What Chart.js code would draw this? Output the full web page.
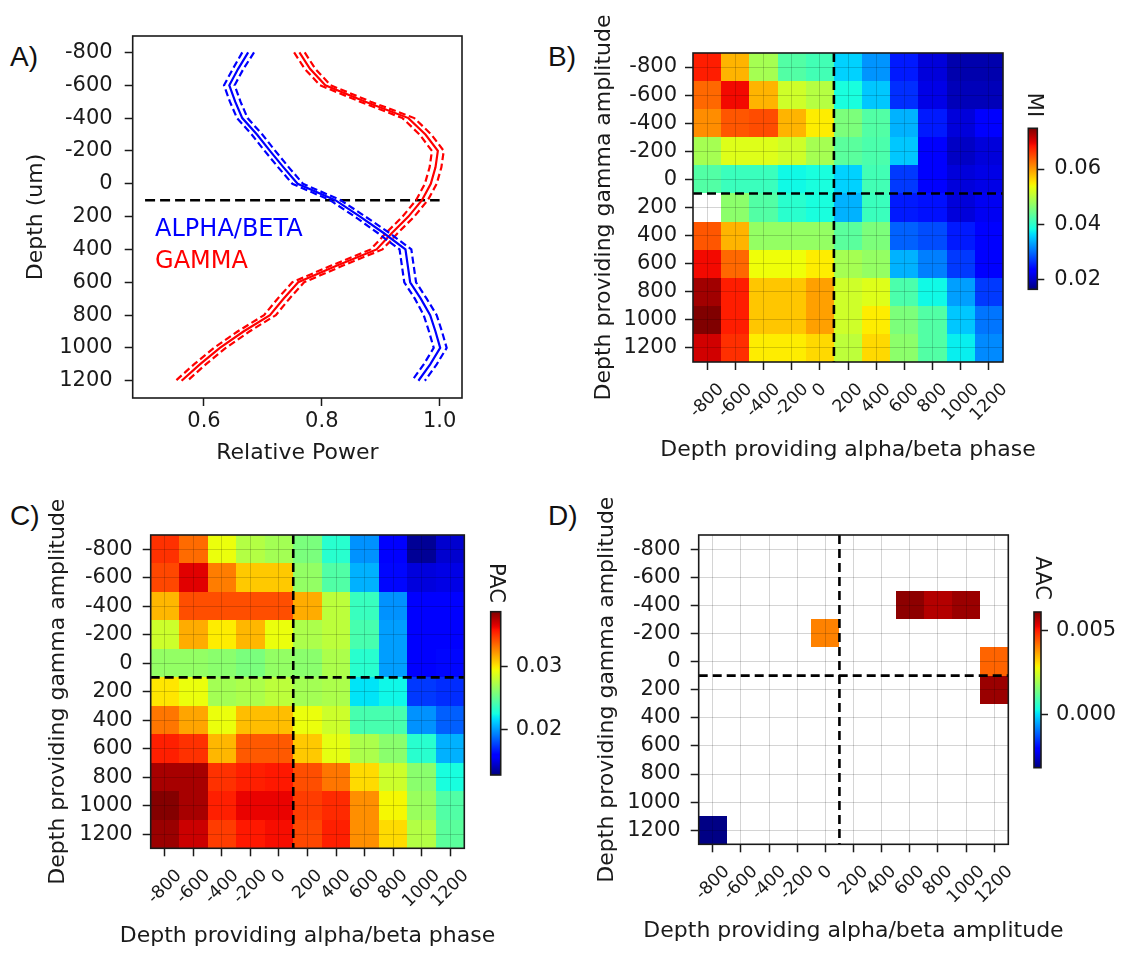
<!DOCTYPE html>
<html>
<head>
<meta charset="utf-8">
<script src="https://cdn.jsdelivr.net/npm/chart.js@4.4.1/dist/chart.umd.min.js"></script>
<style>
  body { margin: 0; background: #fff; }
  #fig { position: relative; width: 1126px; height: 953px; overflow: hidden; background: #fff; }
  #fig canvas { position: absolute; }
  .tag { position: absolute; font-family: 'Liberation Sans', sans-serif; font-size: 28px; line-height: 28px; color: #111; }
</style>
</head>
<body>
<div id="fig">
  <div class="tag" style="left:10px;top:43px">A)</div>
  <div class="tag" style="left:548px;top:43px">B)</div>
  <div class="tag" style="left:10px;top:502px">C)</div>
  <div class="tag" style="left:548px;top:502px">D)</div>
  <canvas id="powerChart" width="480" height="480" style="left:0;top:0"></canvas>
  <canvas id="miChart" width="586" height="480" style="left:540px;top:0"></canvas>
  <canvas id="miBar" width="126" height="260" style="left:1000px;top:60px"></canvas>
  <canvas id="pacChart" width="540" height="473" style="left:0;top:480px"></canvas>
  <canvas id="pacBar" width="110" height="260" style="left:470px;top:540px"></canvas>
  <canvas id="aacChart" width="586" height="473" style="left:540px;top:480px"></canvas>
  <canvas id="aacBar" width="116" height="260" style="left:1010px;top:540px"></canvas>
</div>
<script>
// ---- data ----
const depths = [-800, -700, -600, -500, -400, -300, -200, -100, 0, 100, 200, 300, 400, 500, 600, 700, 800, 900, 1000, 1100, 1200];
const alphaBetaPower = [0.675, 0.658, 0.643, 0.653, 0.665, 0.690, 0.712, 0.735, 0.759, 0.823, 0.865, 0.905, 0.942, 0.946, 0.950, 0.968, 0.984, 0.993, 1.001, 0.984, 0.964];
const alphaBetaErr = [0.010, 0.009, 0.009, 0.009, 0.009, 0.009, 0.009, 0.009, 0.009, 0.009, 0.009, 0.010, 0.010, 0.010, 0.010, 0.010, 0.011, 0.011, 0.011, 0.011, 0.011];
const gammaPower = [0.762, 0.780, 0.806, 0.874, 0.947, 0.976, 0.997, 0.993, 0.985, 0.970, 0.947, 0.919, 0.893, 0.825, 0.760, 0.735, 0.712, 0.667, 0.627, 0.593, 0.562];
const gammaErr = [0.009, 0.009, 0.009, 0.009, 0.010, 0.010, 0.010, 0.010, 0.010, 0.010, 0.010, 0.010, 0.010, 0.010, 0.010, 0.010, 0.010, 0.010, 0.010, 0.010, 0.010];
const powerTicks = [0.6, 0.8, 1.0];

const depthTicks = [-800, -600, -400, -200, 0, 200, 400, 600, 800, 1000, 1200];
const cellDepths = [-800, -600, -400, -200, 0, 200, 400, 600, 800, 1000, 1200];
const cellSize = 200;
const boundaryDepth = 100;

// rows = depth providing gamma amplitude, columns = depth providing alpha/beta
const miValues = [
  [0.0677, 0.0584, 0.0486, 0.0427, 0.0416, 0.0358, 0.0323, 0.0253, 0.0212, 0.0189, 0.0189],
  [0.0631, 0.0689, 0.0584, 0.0515, 0.0497, 0.0387, 0.0352, 0.0265, 0.0218, 0.0195, 0.0195],
  [0.0608, 0.0642, 0.0648, 0.0584, 0.0549, 0.0457, 0.0427, 0.0340, 0.0253, 0.0212, 0.0230],
  [0.0486, 0.0526, 0.0526, 0.0515, 0.0486, 0.0433, 0.0422, 0.0352, 0.0236, 0.0201, 0.0212],
  [0.0427, 0.0410, 0.0410, 0.0381, 0.0387, 0.0358, 0.0416, 0.0271, 0.0236, 0.0212, 0.0218],
  [null,   0.0468, 0.0427, 0.0398, 0.0387, 0.0340, 0.0410, 0.0253, 0.0247, 0.0212, 0.0224],
  [0.0642, 0.0584, 0.0474, 0.0474, 0.0474, 0.0433, 0.0457, 0.0294, 0.0282, 0.0253, 0.0236],
  [0.0689, 0.0631, 0.0538, 0.0538, 0.0549, 0.0486, 0.0474, 0.0340, 0.0311, 0.0271, 0.0236],
  [0.0730, 0.0677, 0.0573, 0.0573, 0.0596, 0.0515, 0.0526, 0.0422, 0.0381, 0.0329, 0.0271],
  [0.0747, 0.0677, 0.0573, 0.0573, 0.0596, 0.0515, 0.0549, 0.0457, 0.0427, 0.0352, 0.0305],
  [0.0706, 0.0666, 0.0549, 0.0549, 0.0561, 0.0503, 0.0561, 0.0468, 0.0427, 0.0375, 0.0317]
];
const miTicks = [0.02, 0.04, 0.06];

const pacValues = [
  [0.0351, 0.0335, 0.0293, 0.0275, 0.0270, 0.0257, 0.0231, 0.0197, 0.0158, 0.0132, 0.0145],
  [0.0345, 0.0366, 0.0330, 0.0309, 0.0309, 0.0265, 0.0244, 0.0205, 0.0161, 0.0148, 0.0150],
  [0.0314, 0.0343, 0.0343, 0.0343, 0.0343, 0.0317, 0.0278, 0.0236, 0.0197, 0.0156, 0.0156],
  [0.0283, 0.0317, 0.0299, 0.0314, 0.0293, 0.0273, 0.0278, 0.0241, 0.0200, 0.0156, 0.0156],
  [0.0265, 0.0265, 0.0262, 0.0257, 0.0265, 0.0262, 0.0273, 0.0231, 0.0200, 0.0158, 0.0161],
  [0.0301, 0.0293, 0.0270, 0.0273, 0.0278, 0.0270, 0.0273, 0.0218, 0.0223, 0.0174, 0.0171],
  [0.0332, 0.0319, 0.0293, 0.0312, 0.0312, 0.0293, 0.0283, 0.0241, 0.0241, 0.0197, 0.0184],
  [0.0356, 0.0351, 0.0314, 0.0340, 0.0340, 0.0309, 0.0291, 0.0273, 0.0262, 0.0231, 0.0205],
  [0.0379, 0.0379, 0.0351, 0.0356, 0.0358, 0.0343, 0.0332, 0.0304, 0.0283, 0.0262, 0.0226],
  [0.0387, 0.0379, 0.0356, 0.0364, 0.0364, 0.0348, 0.0353, 0.0325, 0.0296, 0.0267, 0.0244],
  [0.0382, 0.0371, 0.0348, 0.0358, 0.0361, 0.0345, 0.0356, 0.0325, 0.0304, 0.0275, 0.0247]
];
const pacTicks = [0.02, 0.03];

// only the significant AAC cells are coloured
const aacAlphaDepth = [0, 600, 800, 1000, 1200, 1200, -800];
const aacGammaDepth = [-200, -400, -400, -400, 0, 200, 1200];
const aacValues = [0.0040, 0.0060, 0.0057, 0.0059, 0.0043, 0.0059, -0.0031];
const aacTicks = [0.000, 0.005];

// ---- helpers ----
const INK = '#1a1a1a';
Chart.defaults.font.family = "'DejaVu Sans', sans-serif";
Chart.defaults.color = INK;

function lerp(t, xs, ys) {
  for (let i = 1; i < xs.length; i++) {
    if (t <= xs[i]) return ys[i - 1] + (ys[i] - ys[i - 1]) * (t - xs[i - 1]) / (xs[i] - xs[i - 1]);
  }
  return ys[ys.length - 1];
}

function jetColor(t) {
  t = Math.max(0, Math.min(1, t));
  const r = lerp(t, [0, 0.35, 0.66, 0.89, 1], [0, 0, 1, 1, 0.5]);
  const g = lerp(t, [0, 0.125, 0.375, 0.64, 0.91, 1], [0, 0, 1, 1, 0, 0]);
  const b = lerp(t, [0, 0.11, 0.34, 0.65, 1], [0.5, 1, 1, 0, 0]);
  return `rgb(${Math.round(r * 255)},${Math.round(g * 255)},${Math.round(b * 255)})`;
}

const fixedTicks = (values) => (scale) => { scale.ticks = values.map(v => ({ value: v })); };

function drawFrame(chart) {
  const { ctx, chartArea: a } = chart;
  ctx.save();
  ctx.strokeStyle = INK;
  ctx.lineWidth = 1.6;
  ctx.strokeRect(a.left, a.top, a.right - a.left, a.bottom - a.top);
  ctx.restore();
}

// axis titles drawn by hand so that long titles are not squeezed to the axis length
function drawTitles(chart, xTitle, xTitleY, yTitle, yTitleX) {
  const { ctx, chartArea: a } = chart;
  ctx.save();
  ctx.font = "22px 'DejaVu Sans'";
  ctx.fillStyle = INK;
  ctx.textAlign = 'center';
  ctx.textBaseline = 'middle';
  ctx.fillText(xTitle, (a.left + a.right) / 2, xTitleY);
  ctx.translate(yTitleX, (a.top + a.bottom) / 2);
  ctx.rotate(-Math.PI / 2);
  ctx.fillText(yTitle, 0, 0);
  ctx.restore();
}

const baseOptions = {
  responsive: false,
  animation: false,
  events: [],
  plugins: { legend: { display: false }, tooltip: { enabled: false } }
};

// ---- A) relative power ----
const pts = (vals, off, sign) => vals.map((v, i) => ({ x: v + (off ? sign * off[i] : 0), y: depths[i] }));
const trace = (data, color, dashed) => ({
  data, showLine: true, borderColor: color, borderWidth: 2.2, pointRadius: 0,
  borderDash: dashed ? [7, 3.5] : []
});

new Chart(document.getElementById('powerChart'), {
  type: 'scatter',
  data: {
    datasets: [
      trace(pts(alphaBetaPower), '#0000ff', false),
      trace(pts(alphaBetaPower, alphaBetaErr, 1), '#0000ff', true),
      trace(pts(alphaBetaPower, alphaBetaErr, -1), '#0000ff', true),
      trace(pts(gammaPower), '#ff0000', false),
      trace(pts(gammaPower, gammaErr, 1), '#ff0000', true),
      trace(pts(gammaPower, gammaErr, -1), '#ff0000', true),
      { data: [{ x: 0.5, y: boundaryDepth }, { x: 1.0, y: boundaryDepth }], showLine: true,
        borderColor: '#000', borderWidth: 2.5, borderDash: [10, 5], pointRadius: 0 }
    ]
  },
  options: {
    ...baseOptions,
    layout: { padding: { left: 0, top: 36, right: 18, bottom: 0 } },
    scales: {
      x: {
        type: 'linear', min: 0.479, max: 1.038, bounds: 'data',
        afterBuildTicks: fixedTicks(powerTicks),
        afterFit: s => { s.height = 82; },
        ticks: { padding: 3, font: { size: 21 }, callback: v => v.toFixed(1) },
        grid: { drawOnChartArea: false, tickLength: 8, tickColor: INK, tickWidth: 1.5 },
        border: { display: false }
      },
      y: {
        type: 'linear', reverse: true, min: -900, max: 1305, bounds: 'data',
        afterBuildTicks: fixedTicks(depthTicks),
        afterFit: s => { s.width = 132.7; },
        ticks: { padding: 12, autoSkip: false, font: { size: 21 }, callback: v => String(v) },
        grid: { drawOnChartArea: false, tickLength: 8, tickColor: INK, tickWidth: 1.5 },
        border: { display: false }
      }
    }
  },
  plugins: [{
    id: 'bandNames',
    afterDraw(chart) {
      const { ctx, scales: { x, y } } = chart;
      ctx.save();
      ctx.font = "24px 'DejaVu Sans'";
      ctx.textBaseline = 'alphabetic';
      ctx.fillStyle = '#0000ff';
      ctx.fillText('ALPHA/BETA', x.getPixelForValue(0.517), y.getPixelForValue(316));
      ctx.fillStyle = '#ff0000';
      ctx.fillText('GAMMA', x.getPixelForValue(0.517), y.getPixelForValue(511));
      ctx.restore();
      drawFrame(chart);
      drawTitles(chart, 'Relative Power', 453, 'Depth (um)', 36);
    }
  }]
});

// ---- heatmaps ----
function heatmap(id, cfg) {
  const lo = cellDepths[0] - cellSize / 2;
  const hi = cellDepths[cellDepths.length - 1] + cellSize / 2;
  const cellPlugin = {
    id: 'cells',
    beforeDatasetsDraw(chart) {
      const { ctx, scales: { x, y } } = chart;
      ctx.save();
      for (const c of chart.data.datasets[0].data) {
        if (c.v === null) continue;
        const x0 = Math.round(x.getPixelForValue(c.x - cellSize / 2));
        const x1 = Math.round(x.getPixelForValue(c.x + cellSize / 2));
        const y0 = Math.round(y.getPixelForValue(c.y - cellSize / 2));
        const y1 = Math.round(y.getPixelForValue(c.y + cellSize / 2));
        ctx.fillStyle = jetColor((c.v - cfg.vmin) / (cfg.vmax - cfg.vmin));
        ctx.fillRect(Math.min(x0, x1), Math.min(y0, y1), Math.abs(x1 - x0), Math.abs(y1 - y0));
      }
      ctx.restore();
    },
    afterDraw(chart) {
      const { ctx, chartArea: a, scales: { x } } = chart;
      ctx.save();
      ctx.font = "17.5px 'DejaVu Sans'";
      ctx.fillStyle = INK;
      ctx.textAlign = 'center';
      ctx.textBaseline = 'middle';
      const top = a.bottom + 17.5;
      for (const v of depthTicks) {
        const label = String(v);
        const box = (ctx.measureText(label).width + 17.5 * 1.164) * Math.SQRT1_2;
        ctx.save();
        ctx.translate(x.getPixelForValue(v), top + box / 2);
        ctx.rotate(-Math.PI / 4);
        ctx.fillText(label, 0, 0);
        ctx.restore();
      }
      ctx.restore();
      drawFrame(chart);
      drawTitles(chart, cfg.xTitle, cfg.xTitleY, 'Depth providing gamma amplitude', cfg.yTitleX);
    }
  };
  const grid = { color: 'rgba(0,0,0,0.17)', lineWidth: 1, z: 1, tickLength: 8, tickColor: INK, tickWidth: 1.5 };
  new Chart(document.getElementById(id), {
    type: 'scatter',
    data: {
      datasets: [
        { label: cfg.name, data: cfg.cells, pointRadius: 0, showLine: false },
        { data: [{ x: lo, y: boundaryDepth }, { x: hi, y: boundaryDepth }], showLine: true,
          borderColor: '#000', borderWidth: 2.6, borderDash: [9, 5], pointRadius: 0 },
        { data: [{ x: boundaryDepth, y: lo }, { x: boundaryDepth, y: hi }], showLine: true,
          borderColor: '#000', borderWidth: 2.6, borderDash: [9, 5], pointRadius: 0 }
      ]
    },
    options: {
      ...baseOptions,
      layout: { padding: cfg.pad },
      scales: {
        x: {
          type: 'linear', min: lo, max: hi, bounds: 'data',
          afterBuildTicks: fixedTicks(depthTicks),
          afterFit: s => { s.height = cfg.xHeight; },
          ticks: { display: false, autoSkip: false },
          grid, border: { display: false }
        },
        y: {
          type: 'linear', reverse: true, min: lo, max: hi, bounds: 'data',
          afterBuildTicks: fixedTicks(depthTicks),
          afterFit: s => { s.width = cfg.yWidth; },
          ticks: { padding: cfg.yTickPad, autoSkip: false, font: { size: 21 }, callback: v => String(v) },
          grid, border: { display: false }
        }
      }
    },
    plugins: [cellPlugin]
  });
}

function colorbar(id, cfg) {
  new Chart(document.getElementById(id), {
    type: 'scatter',
    data: { datasets: [] },
    options: {
      ...baseOptions,
      layout: { padding: cfg.pad },
      scales: {
        x: { display: false, min: 0, max: 1 },
        y: {
          position: 'right', min: cfg.vmin, max: cfg.vmax, bounds: 'data',
          afterBuildTicks: fixedTicks(cfg.ticks),
          afterFit: s => { s.width = cfg.width; },
          ticks: { padding: cfg.tickPad, font: { size: 21 }, callback: v => v.toFixed(cfg.digits) },
          grid: { drawOnChartArea: false, tickLength: 7, tickColor: INK, tickWidth: 1.5 },
          border: { display: false }
        }
      }
    },
    plugins: [{
      id: 'bar',
      beforeDatasetsDraw(chart) {
        const { ctx, chartArea: a } = chart;
        const grad = ctx.createLinearGradient(0, a.bottom, 0, a.top);
        for (let i = 0; i <= 64; i++) grad.addColorStop(i / 64, jetColor(i / 64));
        ctx.save();
        ctx.fillStyle = grad;
        ctx.fillRect(a.left, a.top, a.right - a.left, a.bottom - a.top);
        ctx.restore();
      },
      afterDraw(chart) {
        const { ctx } = chart;
        drawFrame(chart);
        ctx.save();
        ctx.font = "21px 'DejaVu Sans'";
        ctx.fillStyle = INK;
        ctx.textAlign = 'center';
        ctx.textBaseline = 'middle';
        ctx.translate(cfg.labelAt[0], cfg.labelAt[1]);
        ctx.rotate(Math.PI / 2);
        ctx.fillText(cfg.label, 0, 0);
        ctx.restore();
      }
    }]
  });
}

const gridCells = (rows) => rows.flatMap((row, i) => row.map((v, j) => ({ x: cellDepths[j], y: cellDepths[i], v })));

// B) MI
heatmap('miChart', {
  name: 'MI', cells: gridCells(miValues), vmin: 0.0166, vmax: 0.0747,
  pad: { left: 0, top: 53, right: 123, bottom: 0 },
  xHeight: 118, yWidth: 153, yTickPad: 8, yTitleX: 64, xTitleY: 450,
  xTitle: 'Depth providing alpha/beta phase'
});
colorbar('miBar', {
  vmin: 0.0166, vmax: 0.0747, ticks: miTicks, digits: 2, label: 'MI', labelAt: [33, 45],
  pad: { left: 28.3, top: 68.3, right: 0, bottom: 30.7 }, width: 88.7, tickPad: 10
});

// C) PAC
heatmap('pacChart', {
  name: 'PAC', cells: gridCells(pacValues), vmin: 0.0127, vmax: 0.0388,
  pad: { left: 0, top: 55, right: 75.7, bottom: 0 },
  xHeight: 104.7, yWidth: 150.7, yTickPad: 10, yTitleX: 58, xTitleY: 456,
  xTitle: 'Depth providing alpha/beta phase'
});
colorbar('pacBar', {
  vmin: 0.0127, vmax: 0.0388, ticks: pacTicks, digits: 2, label: 'PAC', labelAt: [25, 43],
  pad: { left: 20.7, top: 71.7, right: 0, bottom: 25 }, width: 79.3, tickPad: 8
});

// D) AAC
heatmap('aacChart', {
  name: 'AAC', cells: aacValues.map((v, i) => ({ x: aacAlphaDepth[i], y: aacGammaDepth[i], v })),
  vmin: -0.00314, vmax: 0.00611,
  pad: { left: 0, top: 55, right: 117.7, bottom: 0 },
  xHeight: 108.7, yWidth: 158.7, yTickPad: 10, yTitleX: 67, xTitleY: 451,
  xTitle: 'Depth providing alpha/beta amplitude'
});
colorbar('aacBar', {
  vmin: -0.00314, vmax: 0.00611, ticks: aacTicks, digits: 3, label: 'AAC', labelAt: [31.7, 38],
  pad: { left: 24, top: 72, right: 0, bottom: 32.3 }, width: 85, tickPad: 8
});
</script>
</body>
</html>
